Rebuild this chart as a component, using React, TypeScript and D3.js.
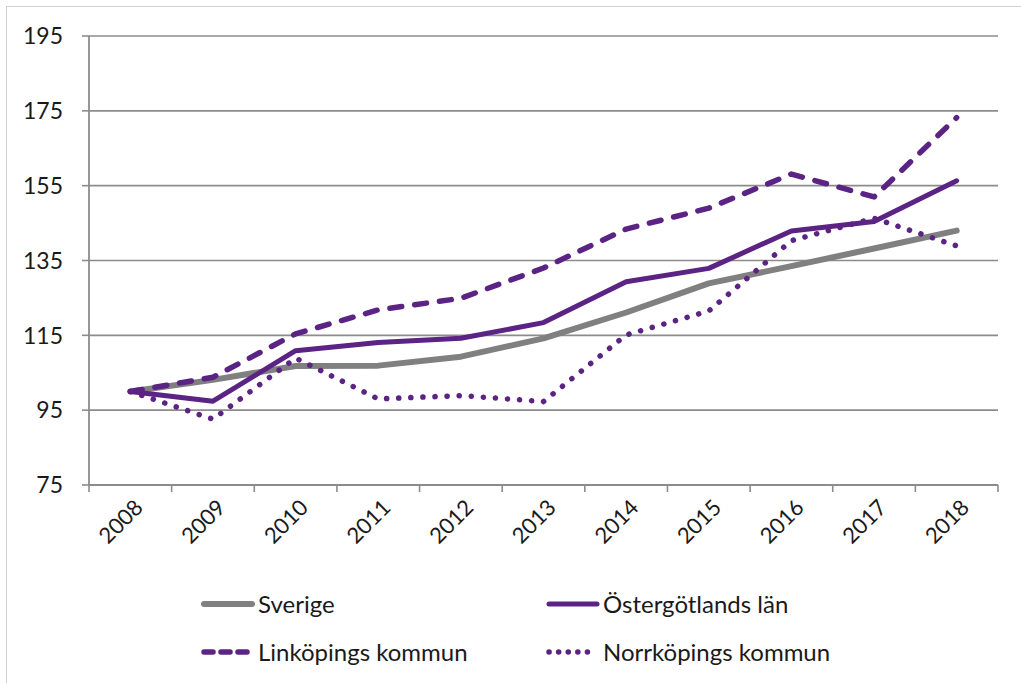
import React from "react";
import * as d3 from "d3";

const years = ["2008","2009","2010","2011","2012","2013","2014","2015","2016","2017","2018"];
const sverige = [100, 103.1, 106.8, 106.9, 109.3, 114.2, 121.1, 128.9, 133.5, 138.2, 143.0];
const ostergotland = [100, 97.4, 110.9, 113.1, 114.2, 118.4, 129.3, 132.9, 142.9, 145.4, 156.3];
const linkoping = [100, 103.8, 115.4, 121.8, 124.9, 133.0, 143.4, 149.0, 158.1, 152.0, 173.2];
const norrkoping = [100, 92.6, 108.9, 98.0, 98.9, 97.3, 115.1, 121.5, 140.3, 146.3, 138.9];
const yTicks = [75, 95, 115, 135, 155, 175, 195];

const PURPLE = "#5b2383";
const GRAY = "#808080";

const series = [
  { name: "Sverige", values: sverige, color: GRAY, width: 6, dash: undefined as string | undefined, ldash: undefined as string | undefined },
  { name: "Östergötlands län", values: ostergotland, color: PURPLE, width: 5, dash: undefined as string | undefined, ldash: undefined as string | undefined },
  { name: "Linköpings kommun", values: linkoping, color: PURPLE, width: 5.5, dash: "12 13", ldash: "9 8" },
  { name: "Norrköpings kommun", values: norrkoping, color: PURPLE, width: 5.5, dash: "0.1 12", ldash: "0.1 9.5" },
];

export default function App() {
  const W = 1021, H = 683;
  const left = 89, right = 998, top = 36, bottom = 485;
  const x = d3.scaleBand().domain(years).range([left, right]);
  const y = d3.scaleLinear().domain([75, 195]).range([bottom, top]);
  const line = d3.line<number>()
    .x((_, i) => (x(years[i]) as number) + x.bandwidth() / 2)
    .y((d) => y(d));
  const font = "Lato, 'Open Sans', sans-serif";
  const boundaries = [...years.map((yr) => x(yr) as number), right];

  const legend = [
    { s: series[0], lx: 200, ly: 604 },
    { s: series[1], lx: 545, ly: 604 },
    { s: series[2], lx: 200, ly: 652 },
    { s: series[3], lx: 545, ly: 652 },
  ];

  return (
    <svg width={W} height={H} style={{ position: "absolute", left: 0, top: 0 }}>
      <rect x={0} y={0} width={W} height={H} fill="#fff" />
      <rect x={6.5} y={6.5} width={1030} height={700} fill="none" stroke="#d0d0d0" strokeWidth={1} />
      {yTicks.slice(1).map((t) => (
        <line key={t} x1={left} x2={right} y1={y(t)} y2={y(t)} stroke="#8c8c8c" strokeWidth={1.6} />
      ))}
      <line x1={left} x2={left} y1={top} y2={bottom} stroke="#8c8c8c" strokeWidth={1.8} />
      <line x1={left} x2={right} y1={bottom} y2={bottom} stroke="#8c8c8c" strokeWidth={1.8} />
      {yTicks.map((t) => (
        <g key={t}>
          <line x1={left - 7} x2={left} y1={y(t)} y2={y(t)} stroke="#8c8c8c" strokeWidth={1.6} />
          <text x={63} y={y(t)} dy="0.36em" textAnchor="end" fontFamily={font} fontSize={23} fill="#1a1a1a">{t}</text>
        </g>
      ))}
      {boundaries.map((b, i) => (
        <line key={i} x1={b} x2={b} y1={bottom} y2={bottom + 7} stroke="#8c8c8c" strokeWidth={1.6} />
      ))}
      {years.map((yr) => {
        const cx = (x(yr) as number) + x.bandwidth() / 2;
        return (
          <text key={yr} transform={`translate(${cx + 3},${bottom + 13}) rotate(-45)`} textAnchor="end" dy="0.7em" fontFamily={font} fontSize={22} fill="#1a1a1a">{yr}</text>
        );
      })}
      {series.map((s) => (
        <path key={s.name} d={line(s.values) as string} fill="none" stroke={s.color} strokeWidth={s.width}
          strokeDasharray={s.dash} strokeLinecap="round" strokeLinejoin="round" />
      ))}
      {legend.map(({ s, lx, ly }) => (
        <g key={s.name}>
          <line x1={lx + 4} x2={lx + 52} y1={ly} y2={ly} stroke={s.color} strokeWidth={s.width}
            strokeDasharray={s.ldash} strokeLinecap="round" />
          <text x={lx + 58} y={ly} dy="0.36em" fontFamily={font} fontSize={24} fill="#1a1a1a">{s.name}</text>
        </g>
      ))}
    </svg>
  );
}
